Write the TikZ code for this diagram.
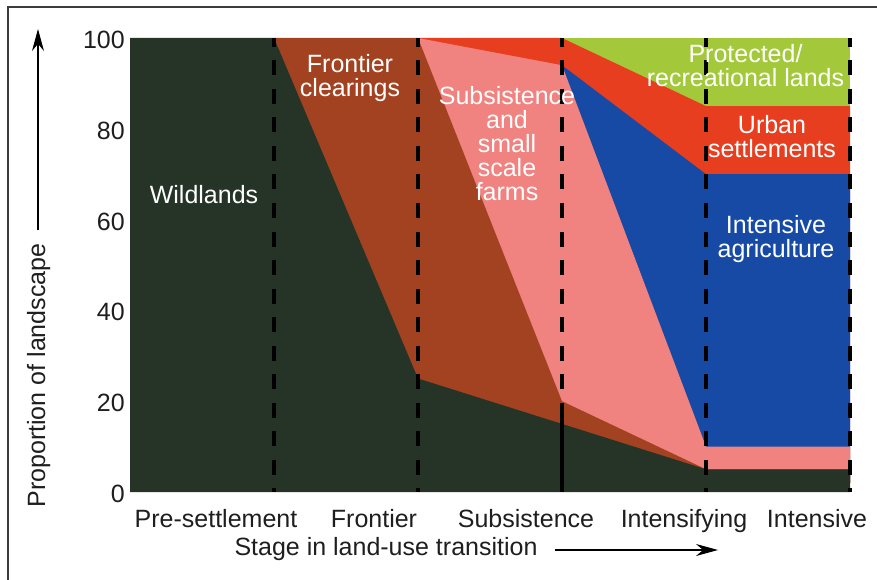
\documentclass[tikz,border=0pt]{standalone}
\usepackage{fontspec}
\setmainfont{Liberation Sans}
\usetikzlibrary{arrows.meta}
\definecolor{wildgreen}{RGB}{37,52,38}
\definecolor{frontierbrown}{RGB}{163,66,33}
\definecolor{farmpink}{RGB}{240,130,128}
\definecolor{agriblue}{RGB}{22,74,165}
\definecolor{urbanred}{RGB}{232,62,32}
\definecolor{parkgreen}{RGB}{163,201,58}
\definecolor{textgray}{RGB}{30,30,30}
\definecolor{framegray}{RGB}{60,60,60}

\begin{document}
\begin{tikzpicture}[x=1pt, y=1pt,
   every node/.style={inner sep=0pt, font=\fontsize{25}{24}\selectfont},
   inlabel/.style={text=white, align=center},
   stagelabel/.style={anchor=base, text=textgray},
   stageline/.style={line width=4pt, dash pattern=on 15pt off 13.5pt, dash phase=6pt},
   axisarrow/.style={line width=1.2pt, -{Stealth[length=22pt, width=12pt]}}]
   \useasboundingbox (0,0) rectangle (877,579);
   \draw[line width=1.3pt, framegray] (8,-1) -- (8,572) -- (878,572);

   \begin{scope}[shift={(130,87)}, x=144pt, y=4.54pt]
      \fill[parkgreen] (3,100) -- (5,100) -- (5,2) -- (3,2) -- cycle;
      \fill[urbanred] (2,100) -- (3,100) -- (4,85) -- (5,85) -- (5,2) -- (2,2) -- cycle;
      \fill[agriblue] (3,94) -- (4,70) -- (5,70) -- (5,2) -- (3,2) -- cycle;
      \fill[farmpink] (2,100) -- (3,94) -- (4,10) -- (5,10) -- (5,2) -- (2,2) -- cycle;
      \fill[frontierbrown] (1,100) -- (2,100) -- (3,20) -- (4,5) -- (5,5) -- (5,2) -- (1,2) -- cycle;
      \fill[wildgreen] (0,100) -- (1,100) -- (2,25) -- (3,15) -- (4,5) -- (5,5) -- (5,0) -- (0,0) -- cycle;
      \foreach \i in {1,...,5}
         \draw[stageline] (\i,100) -- (\i,0);
      \draw[line width=3.5pt] (3,19.5) -- (3,0);
      \foreach \p in {0,20,...,100}
         \node[anchor=base east, xshift=-5pt, yshift=-10.5pt, text=textgray] (tick\p) at (0,\p) {\p};
   \end{scope}

   \node[inlabel, anchor=base] (wild) at (204,375) {Wildlands};
   \node[inlabel] (frontier) at (350,501.3) {Frontier\\clearings};
   \node[inlabel] (farms) at (507,435.3) {Subsistence\\and\\small\\scale\\farms};
   \node[inlabel] (protected) at (745.5,513) {Protected/\\recreational lands};
   \node[inlabel] (urban) at (772,442.8) {Urban\\settlements};
   \node[inlabel] (intensive) at (776,340.3) {Intensive\\agriculture};

   \node[stagelabel] (presettlement) at (216,52) {Pre-settlement};
   \node[stagelabel] (frontierstage) at (374,52) {Frontier};
   \node[stagelabel] (subsistence) at (526,52) {Subsistence};
   \node[stagelabel] (intensifying) at (684,52) {Intensifying};
   \node[stagelabel] (intensivestage) at (817,52) {Intensive};
   \node[stagelabel] (xlabel) at (386,24) {Stage in land-use transition};
   \node[stagelabel, rotate=90] (ylabel) at (45,203.5) {Proportion of landscape};

   \coordinate (ytail) at (38,349);
   \coordinate (yhead) at (38,550);
   \coordinate (xtail) at (555,29);
   \coordinate (xhead) at (718,29);
   \draw[axisarrow] (ytail) -- (yhead);
   \draw[axisarrow] (xtail) -- (xhead);
\end{tikzpicture}
\end{document}
